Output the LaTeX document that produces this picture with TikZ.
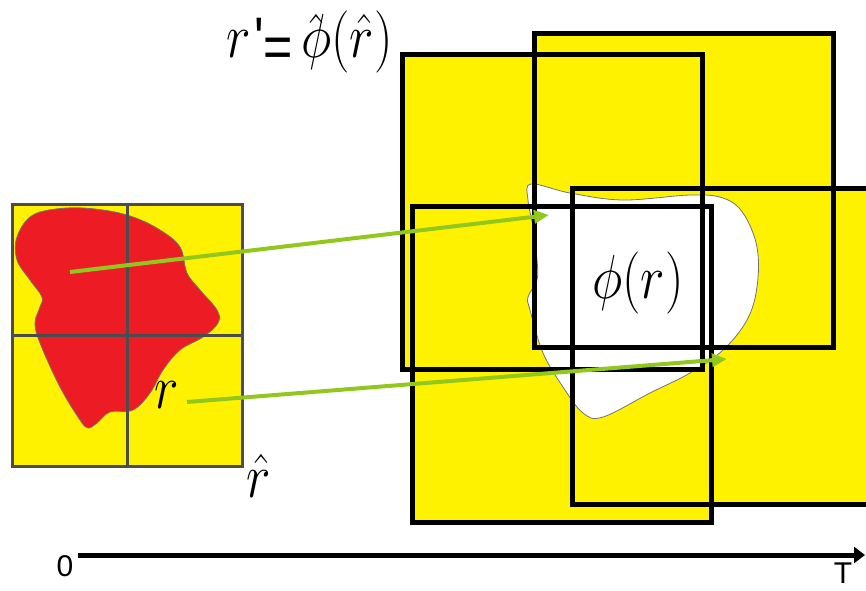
\documentclass[tikz,border=0pt]{standalone}
\usepackage{fontspec}
\newfontfamily\labelsans[Ligatures=TeXOff]{Liberation Sans}
\usetikzlibrary{arrows.meta}
\definecolor{cellyellow}{RGB}{255,242,0}
\definecolor{blobred}{RGB}{237,28,36}
\definecolor{mapgreen}{RGB}{146,200,30}
\tikzset{
  frame/.style={line width=5pt, line join=miter},
  gridline/.style={line width=3pt, draw=black!70},
  blobline/.style={draw=black!55, line width=0.8pt},
  maparrow/.style={line width=4pt, draw=mapgreen, -{Triangle[length=15pt,width=13pt]}},
  timeaxis/.style={line width=5pt, -{Triangle[length=11pt,width=16pt]}},
  mathlabel/.style={font=\Huge, inner sep=0pt, xscale=2.09, yscale=2.5},
  axislabel/.style={font=\labelsans\fontsize{30}{30}\selectfont, inner sep=0pt}
}
\begin{document}
\begin{tikzpicture}[x=1pt, y=-1pt]
  \useasboundingbox (0,0) rectangle (866,590);
  \clip (0,0) rectangle (866,590);
  % source region on the grid
  \fill[cellyellow] (12,204) rectangle (242,466);
  \filldraw[fill=blobred, blobline] plot[smooth cycle, tension=0.6] coordinates {
    (33,215) (67,208) (103,210) (133,217) (160,230) (180,247) (187,273)
    (200,290) (217,310) (218,323) (203,337) (180,350) (163,370) (150,393)
    (133,410) (110,412) (97,423) (88,428) (80,420) (60,387) (40,343)
    (35,323) (40,307) (42,297) (30,280) (17,260) (17,237)};
  \draw[gridline] (12,204) rectangle (242,466);
  \draw[gridline] (127,204) -- (127,466);
  \draw[gridline] (12,335) -- (242,335);
  % overlapping target cells
  \foreach \xa/\ya/\xb/\yb in {402/54/702/369, 534/33/833/347, 412/206/711/522, 572/188/900/504}
    \fill[cellyellow] (\xa,\ya) rectangle (\xb,\yb);
  \filldraw[fill=white, blobline] plot[smooth cycle, tension=0.6] coordinates {
    (531,184) (570,193) (623,200) (690,195) (723,198) (743,213) (757,247)
    (757,287) (747,320) (723,350) (690,373) (650,393) (603,417) (583,413)
    (563,387) (543,353) (530,310) (528,297) (537,280) (537,260) (533,227)
    (528,200)};
  \foreach \xa/\ya/\xb/\yb in {402/54/702/369, 534/33/833/347, 412/206/711/522, 572/188/900/504}
    \draw[frame] (\xa,\ya) rectangle (\xb,\yb);
  % labels
  \node[mathlabel, anchor=base] (phir) at (638,298) {$\phi(r)$};
  \node[mathlabel, anchor=base] (rlab) at (167,408) {$r$};
  \node[mathlabel, anchor=base] (rhat) at (259,497) {$\hat{r}$};
  \node[mathlabel, anchor=base west] (rprime) at (226,57)
    {$r$\hspace{2pt}{\labelsans\fontsize{24}{24}\selectfont\raisebox{-1pt}{'}\kern-0.5pt\raisebox{-4pt}{=}}\hspace{4pt}$\hat{\smash{\phi}}(\hat{r})$};
  % mapping arrows
  \coordinate (redsrc) at (70,272);
  \coordinate (whitedst) at (549,215);
  \coordinate (rsrc) at (187,402);
  \coordinate (rdst) at (727,359);
  \draw[maparrow] (redsrc) -- (whitedst);
  \draw[maparrow] (rsrc) -- (rdst);
  % time axis
  \coordinate (tzero) at (78,555);
  \coordinate (tend) at (865,555);
  \draw[timeaxis] (tzero) -- (tend);
  \node[axislabel] (zero) at (65,566) {0};
  \node[axislabel, anchor=north] (tee) at (843,563) {T};
\end{tikzpicture}
\end{document}
